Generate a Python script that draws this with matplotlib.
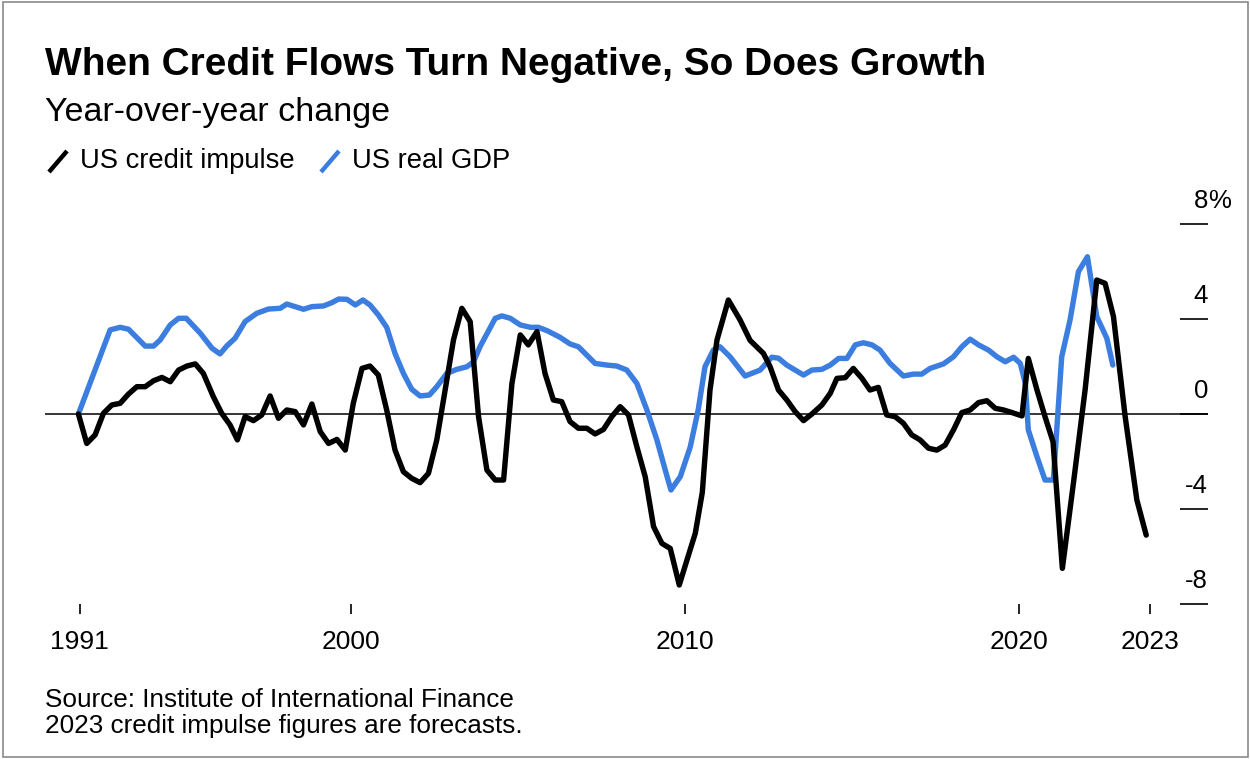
import matplotlib
matplotlib.use("Agg")
import matplotlib.pyplot as plt
import matplotlib.transforms as mtransforms
from matplotlib.lines import Line2D
from matplotlib.patches import Rectangle

# US credit impulse, yoy % (quarterly; 2023 is forecast)
credit_years = [1991.84, 1992.09, 1992.34, 1992.59, 1992.84, 1993.09, 1993.34, 1993.59, 1993.84, 1994.09,
                1994.34, 1994.59, 1994.84, 1995.09, 1995.34, 1995.58, 1995.88, 1996.13, 1996.38, 1996.60,
                1996.83, 1997.08, 1997.33, 1997.58, 1997.83, 1998.08, 1998.33, 1998.58, 1998.83, 1999.08,
                1999.33, 1999.58, 1999.83, 2000.07, 2000.33, 2000.57, 2000.82, 2001.07, 2001.32, 2001.57,
                2001.82, 2002.07, 2002.32, 2002.57, 2002.82, 2003.07, 2003.32, 2003.57, 2003.82, 2004.07,
                2004.32, 2004.57, 2004.82, 2005.07, 2005.31, 2005.57, 2005.81, 2006.06, 2006.31, 2006.56,
                2006.81, 2007.06, 2007.31, 2007.56, 2007.81, 2008.06, 2008.31, 2008.56, 2008.81, 2009.06,
                2009.31, 2009.56, 2009.83, 2010.06, 2010.31, 2010.52, 2010.75, 2010.96, 2011.30, 2011.65,
                2011.95, 2012.35, 2012.55, 2012.80, 2013.05, 2013.30, 2013.55, 2013.80, 2014.10, 2014.35,
                2014.55, 2014.80, 2015.04, 2015.30, 2015.54, 2015.79, 2016.04, 2016.29, 2016.54, 2016.79,
                2017.04, 2017.29, 2017.54, 2017.79, 2018.04, 2018.29, 2018.54, 2018.79, 2019.04, 2019.29,
                2019.54, 2019.79, 2020.09, 2020.28, 2020.54, 2020.78, 2021.02, 2021.30, 2021.63, 2021.98,
                2022.33, 2022.58, 2022.83, 2023.18, 2023.53, 2023.81]
credit_values = [0.0, -1.24, -0.88, 0.03, 0.38, 0.45, 0.84, 1.15, 1.15, 1.40,
                 1.54, 1.36, 1.85, 2.02, 2.11, 1.71, 0.73, 0.03, -0.46, -1.09,
                 -0.11, -0.28, -0.04, 0.76, -0.18, 0.17, 0.10, -0.46, 0.42, -0.74,
                 -1.24, -1.07, -1.52, 0.45, 1.92, 2.02, 1.64, 0.17, -1.52, -2.43,
                 -2.71, -2.89, -2.50, -1.09, 1.01, 3.12, 4.45, 3.89, -0.11, -2.36,
                 -2.78, -2.78, 1.29, 3.33, 2.91, 3.47, 1.71, 0.59, 0.52, -0.32,
                 -0.60, -0.60, -0.84, -0.65, -0.11, 0.31, -0.04, -1.38, -2.64, -4.74,
                 -5.45, -5.66, -7.20, -6.15, -5.02, -3.30, 1.01, 3.12, 4.80, 3.96,
                 3.10, 2.55, 1.99, 1.01, 0.59, 0.10, -0.28, 0.00, 0.38, 0.87,
                 1.50, 1.53, 1.92, 1.50, 1.01, 1.12, -0.04, -0.11, -0.39, -0.88,
                 -1.09, -1.44, -1.52, -1.31, -0.67, 0.06, 0.17, 0.48, 0.56, 0.24,
                 0.17, 0.06, -0.08, 2.34, 1.01, -0.11, -1.17, -6.50, -2.92, 1.01,
                 5.64, 5.50, 4.10, -0.11, -3.62, -5.10]

# US real GDP, yoy %
gdp_years = [1991.84, 1992.79, 1993.09, 1993.34, 1993.84, 1994.09, 1994.29, 1994.59, 1994.84, 1995.07,
             1995.49, 1995.84, 1996.08, 1996.28, 1996.53, 1996.83, 1997.18, 1997.53, 1997.88, 1998.08,
             1998.33, 1998.58, 1998.83, 1999.18, 1999.43, 1999.63, 1999.88, 2000.13, 2000.36, 2000.57,
             2000.82, 2001.07, 2001.32, 2001.57, 2001.82, 2002.07, 2002.35, 2002.57, 2002.87, 2003.17,
             2003.47, 2003.67, 2003.87, 2004.32, 2004.52, 2004.77, 2005.07, 2005.37, 2005.61, 2005.87,
             2006.26, 2006.56, 2006.81, 2007.06, 2007.31, 2007.66, 2007.96, 2008.26, 2008.56, 2008.86,
             2009.16, 2009.41, 2009.58, 2009.86, 2010.16, 2010.40, 2010.60, 2010.85, 2011.05, 2011.35,
             2011.80, 2012.25, 2012.60, 2012.80, 2013.05, 2013.55, 2013.80, 2014.10, 2014.35, 2014.60,
             2014.85, 2015.10, 2015.34, 2015.60, 2015.84, 2016.14, 2016.54, 2016.84, 2017.09, 2017.34,
             2017.74, 2018.04, 2018.29, 2018.54, 2018.79, 2019.09, 2019.34, 2019.59, 2019.84, 2020.04,
             2020.19, 2020.28, 2020.54, 2020.78, 2021.03, 2021.28, 2021.53, 2021.78, 2022.05, 2022.33,
             2022.63, 2022.81]
gdp_values = [0.0, 3.54, 3.65, 3.57, 2.86, 2.86, 3.12, 3.75, 4.03, 4.03,
              3.40, 2.77, 2.53, 2.86, 3.19, 3.89, 4.24, 4.42, 4.45, 4.63,
              4.52, 4.41, 4.52, 4.55, 4.69, 4.84, 4.83, 4.59, 4.80, 4.59,
              4.17, 3.65, 2.55, 1.71, 1.04, 0.76, 0.80, 1.15, 1.71, 1.88,
              1.99, 2.20, 2.85, 4.03, 4.13, 4.03, 3.75, 3.65, 3.65, 3.51,
              3.23, 2.95, 2.83, 2.48, 2.13, 2.06, 2.02, 1.85, 1.29, 0.17,
              -1.09, -2.36, -3.20, -2.64, -1.38, 0.20, 1.99, 2.69, 2.83, 2.41,
              1.60, 1.85, 2.39, 2.35, 2.06, 1.64, 1.85, 1.88, 2.06, 2.34,
              2.34, 2.91, 3.00, 2.91, 2.69, 2.13, 1.60, 1.68, 1.68, 1.92,
              2.11, 2.41, 2.83, 3.15, 2.91, 2.69, 2.41, 2.20, 2.39, 2.13,
              1.29, -0.67, -1.80, -2.78, -2.78, 2.41, 3.96, 5.99, 6.62, 4.10,
              3.19, 2.06]

x_tick_pos = [1991.88, 2000.0, 2010.0, 2020.0, 2023.93]
x_tick_labels = ["1991", "2000", "2010", "2020", "2023"]
y_ticks = [-8, -4, 0, 4, 8]

BLUE = "#3b7ee0"
W, H = 1250, 759

plt.rcParams['font.family'] = ['Liberation Sans', 'DejaVu Sans']


def fx(px):
    return px / W


def fy(py):
    return 1 - py / H


fig = plt.figure(figsize=(W / 100, H / 100), dpi=100)
fig.patch.set_facecolor("white")
# thin grey frame round the picture
fig.patches.append(Rectangle((0.002, 0.003), 0.996, 0.994, transform=fig.transFigure,
                             fill=False, edgecolor="#8a8a8a", lw=1.2))

ax = fig.add_axes([fx(45), fy(604), fx(1208) - fx(45), fy(224) - fy(604)])
ax.set_xlim(1990.84, 2025.66)
ax.set_ylim(-8, 8)
for s in ax.spines.values():
    s.set_visible(False)

ax.axhline(0, color="black", lw=1.1, zorder=1)
ax.plot(credit_years, credit_values, color="black", lw=3.9, zorder=3,
        solid_capstyle="round", solid_joinstyle="round")
ax.plot(gdp_years, gdp_values, color=BLUE, lw=3.9, zorder=2,
        solid_capstyle="round", solid_joinstyle="round")

ax.set_xticks(x_tick_pos)
ax.set_xticklabels(x_tick_labels)
ax.tick_params(axis="x", length=7, width=1.2, pad=12, labelsize=19, color="black")

ax.set_yticks(y_ticks)
ax.yaxis.set_ticks_position("right")
ax.tick_params(axis="y", direction="in", length=20, width=1.2, color="black",
               labelright=False, labelleft=False)
trans = mtransforms.blended_transform_factory(ax.transAxes, ax.transData)
lift = mtransforms.ScaledTranslation(0, 11.5 / 72, fig.dpi_scale_trans)
for v in y_ticks:
    ax.text(1.0, v, str(v), transform=trans + lift, ha="right", va="baseline", fontsize=18.5)
    if v == max(y_ticks):
        ax.text(1.0, v, "%", transform=trans + lift, ha="left", va="baseline", fontsize=18.5)

# headings
fig.text(fx(45), fy(65), "When Credit Flows Turn Negative, So Does Growth",
         fontsize=28, fontweight="bold", va="center", ha="left")
fig.text(fx(45), fy(112), "Year-over-year change", fontsize=24.5, va="center", ha="left")

# legend
fig.add_artist(Line2D([fx(49), fx(67)], [fy(172), fy(151)], color="black", lw=3.2,
                      transform=fig.transFigure, solid_capstyle="butt"))
fig.text(fx(80), fy(161), "US credit impulse", fontsize=19.7, va="center", ha="left")
fig.add_artist(Line2D([fx(321), fx(339)], [fy(172), fy(151)], color=BLUE, lw=3.2,
                      transform=fig.transFigure, solid_capstyle="butt"))
fig.text(fx(352), fy(161), "US real GDP", fontsize=19.7, va="center", ha="left")

# footnotes
fig.text(fx(45), fy(700), "Source: Institute of International Finance", fontsize=18.8,
         va="center", ha="left")
fig.text(fx(45), fy(726), "2023 credit impulse figures are forecasts.", fontsize=18.8,
         va="center", ha="left")

fig.savefig("out.png", dpi=100, facecolor="white")
